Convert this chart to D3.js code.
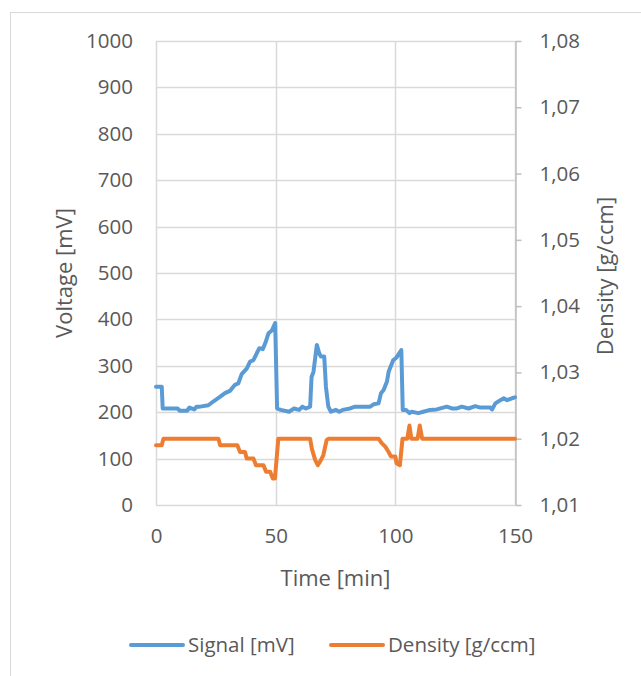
<!DOCTYPE html>
<html>
<head>
<meta charset="utf-8">
<script src="https://cdn.jsdelivr.net/npm/d3@7"></script>
<style>
    body { margin: 0; background: #fff; }
    svg text { font-family: "Open Sans", "Liberation Sans", sans-serif; fill: #595959; }
</style>
</head>
<body>
<svg id="chart" width="641" height="676"></svg>
<script>
// signal trace [mV]
const signalTime = [0, 2.4, 2.8, 9, 10, 13, 14, 16, 17, 18.4, 21.9, 23.9, 26.7, 28.8, 30.9, 33, 34.4, 35.8, 37.9, 39.3,
    40.7, 42.1, 43.2, 44.6, 45.6, 47, 48.4, 49.8, 50.6, 52.1, 55.6, 57.7, 59.8, 61.2, 62.6, 64.4, 65, 65.8, 67.2, 68.2,
    68.9, 70.3, 71, 72, 73.1, 75.2, 76.6, 78, 81.1, 83.2, 89.5, 90.9, 93, 94, 95.1, 96.5, 97.2, 99.1, 100.5, 102.5,
    103.1, 104.5, 105.9, 106.8, 109.6, 111.7, 114.5, 117.3, 121.5, 123.6, 125.7, 127.8, 130.6, 133.4, 135.5, 139.7,
    140.4, 141.8, 143.9, 145.3, 146.7, 148.7, 150];
const signalValues = [255, 255, 208, 208, 203, 203, 210, 206, 212, 212, 215, 223, 233, 241, 246, 259, 262, 282, 294, 309,
    312, 327, 338, 336, 348, 370, 376, 392, 208, 205, 201, 208, 205, 212, 208, 212, 276, 287, 345, 327,
    320, 320, 255, 212, 201, 205, 201, 205, 208, 212, 212, 217, 219, 241, 248, 266, 287, 312, 318, 334,
    205, 205, 198, 201, 198, 201, 205, 206, 212, 208, 208, 212, 208, 213, 210, 210,
    206, 219, 226, 230, 226, 230, 232];

// density trace [g/ccm]
const densityTime = [0, 2.4, 3.1, 26.1, 26.8, 34, 35.1, 37.2, 37.9, 40.7, 41.8, 44.9, 46, 47.7, 48.8, 49.7, 51.1,
    64.4, 65.1, 66.5, 67.6, 68.5, 69.9, 71.3, 72, 93, 94.4, 95.8, 97.2, 98.2, 100, 100.5, 101.9, 103, 105, 105.9,
    106.7, 109.3, 110.2, 111.2, 150];
const densityValues = [1.019, 1.019, 1.020, 1.020, 1.019, 1.019, 1.018, 1.018, 1.017, 1.017, 1.016, 1.016, 1.015, 1.015, 1.014, 1.014, 1.020,
    1.020, 1.0185, 1.0168, 1.016, 1.0165, 1.0175, 1.0198, 1.020, 1.020, 1.0193, 1.0188, 1.018, 1.0173, 1.0173, 1.0163, 1.016, 1.020, 1.020, 1.022,
    1.020, 1.020, 1.022, 1.020, 1.020];

// axis ticks
const timeTicks = [0, 50, 100, 150];
const voltageTicks = [0, 100, 200, 300, 400, 500, 600, 700, 800, 900, 1000];
const densityTicks = [1.01, 1.02, 1.03, 1.04, 1.05, 1.06, 1.07, 1.08];

const legendItems = ['Signal [mV]', 'Density [g/ccm]'];
const colors = ['#5b9bd5', '#ed7d31'];

const plot = { left: 156, right: 515, top: 41, bottom: 505 };
const gridColor = '#d9d9d9';
const tickFont = '20.5px';
const titleFont = '22px';

var svg = d3.select('#chart');

// chart frame
svg.append('rect')
    .attr('x', 10.5)
    .attr('y', 12.5)
    .attr('width', 700)
    .attr('height', 700)
    .attr('fill', '#fff')
    .attr('stroke', '#d9d9d9');

var x = d3.scaleLinear().domain([0, 150]).range([plot.left, plot.right]);
var yL = d3.scaleLinear().domain([0, 1000]).range([plot.bottom, plot.top]);
var yR = d3.scaleLinear().domain([1.01, 1.08]).range([plot.bottom, plot.top]);

// horizontal grid
svg.append('g')
    .selectAll('line')
    .data(voltageTicks)
    .enter().append('line')
    .attr('x1', plot.left)
    .attr('x2', plot.right)
    .attr('y1', d => Math.round(yL(d)) + 0.5)
    .attr('y2', d => Math.round(yL(d)) + 0.5)
    .attr('stroke', gridColor)
    .attr('stroke-width', 1.5);

// vertical grid
svg.append('g')
    .selectAll('line')
    .data(timeTicks)
    .enter().append('line')
    .attr('x1', d => Math.round(x(d)) + 0.5)
    .attr('x2', d => Math.round(x(d)) + 0.5)
    .attr('y1', plot.top)
    .attr('y2', plot.bottom)
    .attr('stroke', gridColor)
    .attr('stroke-width', 1.5);

// left axis (labels only)
var leftAxis = d3.axisLeft(yL)
    .tickValues(voltageTicks)
    .tickFormat(d3.format('d'))
    .tickSize(0)
    .tickPadding(23);

var gLeft = svg.append('g')
    .attr('transform', `translate(${plot.left},0)`)
    .call(leftAxis);
gLeft.select('.domain').remove();

// bottom axis (labels only)
var bottomAxis = d3.axisBottom(x)
    .tickValues(timeTicks)
    .tickSize(0)
    .tickPadding(23);

var gBottom = svg.append('g')
    .attr('transform', `translate(0,${plot.bottom})`)
    .call(bottomAxis);
gBottom.select('.domain').remove();

// right axis with line and outer ticks
var rightAxis = d3.axisRight(yR)
    .tickValues(densityTicks)
    .tickSize(6)
    .tickSizeOuter(0)
    .tickPadding(18)
    .tickFormat(d => d3.format('.2f')(d).replace('.', ','));

var gRight = svg.append('g')
    .attr('transform', `translate(${Math.round(plot.right) + 0.5},0)`)
    .call(rightAxis);
gRight.select('.domain').attr('stroke', '#bfbfbf').attr('stroke-width', 1.5);
gRight.selectAll('.tick line').attr('stroke', '#bfbfbf').attr('stroke-width', 1.5);

svg.selectAll('.tick text')
    .style('font-size', tickFont)
    .attr('fill', '#595959');

// axis titles
svg.append('text')
    .attr('transform', `translate(72,${(plot.top + plot.bottom) / 2}) rotate(-90)`)
    .attr('text-anchor', 'middle')
    .style('font-size', titleFont)
    .text('Voltage [mV]');

svg.append('text')
    .attr('transform', `translate(613,${(plot.top + plot.bottom) / 2 + 3}) rotate(-90)`)
    .attr('text-anchor', 'middle')
    .style('font-size', titleFont)
    .text('Density [g/ccm]');

svg.append('text')
    .attr('x', (plot.left + plot.right) / 2)
    .attr('y', 586)
    .attr('text-anchor', 'middle')
    .style('font-size', titleFont)
    .text('Time [min]');

// lines
var signalLine = d3.line()
    .x((d, i) => x(signalTime[i]))
    .y(d => yL(d));

var densityLine = d3.line()
    .x((d, i) => x(densityTime[i]))
    .y(d => yR(d));

svg.append('path')
    .datum(densityValues)
    .attr('d', densityLine)
    .attr('fill', 'none')
    .attr('stroke', colors[1])
    .attr('stroke-width', 4)
    .attr('stroke-linejoin', 'round')
    .attr('stroke-linecap', 'round');

svg.append('path')
    .datum(signalValues)
    .attr('d', signalLine)
    .attr('fill', 'none')
    .attr('stroke', colors[0])
    .attr('stroke-width', 4)
    .attr('stroke-linejoin', 'round')
    .attr('stroke-linecap', 'round');

// legend
var legendX = [131, 331];
var legend = svg.append('g')
    .selectAll('g')
    .data(legendItems)
    .enter().append('g')
    .attr('transform', (d, i) => `translate(${legendX[i]},645)`);

legend.append('line')
    .attr('x1', 0)
    .attr('x2', 52)
    .attr('stroke', (d, i) => colors[i])
    .attr('stroke-width', 4)
    .attr('stroke-linecap', 'round');

legend.append('text')
    .attr('x', 57)
    .attr('dy', '0.35em')
    .style('font-size', tickFont)
    .text(d => d);
</script>
</body>
</html>
